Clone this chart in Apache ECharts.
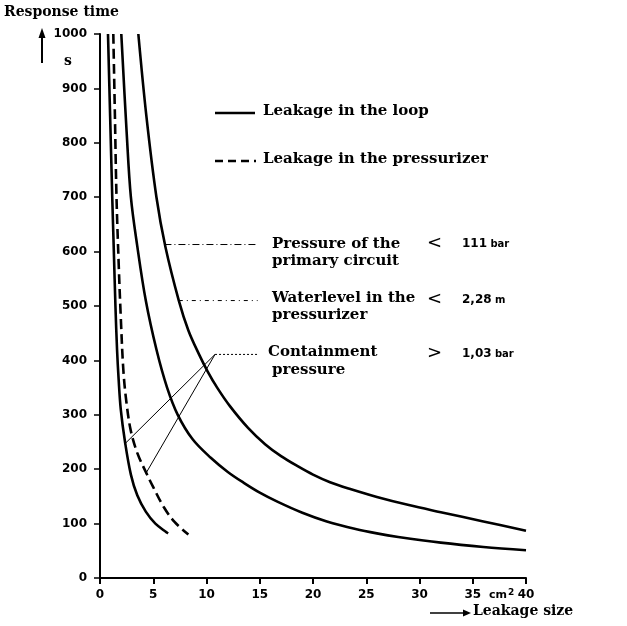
<!DOCTYPE html>
<html>
<head>
<meta charset="utf-8">
<script src="https://cdn.jsdelivr.net/npm/echarts@6/dist/echarts.min.js"></script>
<style>html,body{margin:0;padding:0;background:#fff;}#c{width:627px;height:626px;}</style>
</head>
<body>
<div id="c"></div>
<script>
// ---- data (x: leakage size cm², y: response time s) ----
const xTicks = [0, 5, 10, 15, 20, 25, 30, 35, 40];
const yTicks = [0, 100, 200, 300, 400, 500, 600, 700, 800, 900, 1000];
const loopInner = [[0.75,1000],[0.95,850],[1.15,700],[1.3,600],[1.45,500],[1.6,420],[1.75,365],[1.95,310],[2.35,250],[2.9,190],[3.5,152],[4.3,122],[5.2,100],[6.4,82]];
const pressurizer = [[1.25,1000],[1.4,850],[1.55,700],[1.75,580],[1.95,480],[2.2,380],[2.5,320],[2.9,270],[3.5,230],[4.3,195],[5.0,167],[6.0,130],[7.0,103],[8.3,80]];
const loopMiddle = [[2.0,1000],[2.5,820],[2.9,700],[3.5,610],[4.3,510],[5.3,420],[6.3,350],[7.3,300],[8.7,255],[10.4,221],[12,195],[13.5,175],[15,157],[16.7,140],[19,120],[21.3,104],[24,90],[26,82],[28,75.5],[32,65],[36,57],[40,51]];
const loopOuter = [[3.6,1000],[4.35,850],[5.3,700],[6.15,608],[7.4,510],[8.3,455],[9.3,411],[10.1,380],[11,350],[12.2,316],[13.9,276],[15.5,246],[17,224],[18.6,205],[20,190],[21.6,176],[23.5,163.5],[26,149],[29,134],[32,121],[36,104],[40,87]];
// annotation leader lines
const pressureLeader = [[6.05,613],[14.8,613]];
const waterLeader = [[7.4,510],[14.8,510]];
const containLeader = [[10.8,411],[14.8,411]];
const containToLoop = [[10.8,411],[2.3,246]];
const containToPressurizer = [[10.8,411],[4.3,192]];
const legendNames = ['Leakage in the loop', 'Leakage in the pressurizer'];

const numFont = "'DejaVu Sans', sans-serif";
const txtFont = "'DejaVu Serif', serif";

const chart = echarts.init(document.getElementById('c'), null, {renderer: 'canvas'});

function curve(name, data, dashed) {
  return {
    name: name, type: 'line', data: data, smooth: 0.35, showSymbol: false, symbol: 'none',
    lineStyle: {color: '#000', width: 2.6, type: dashed ? [10, 5] : 'solid'},
    itemStyle: {color: '#000'}, silent: true, z: 3
  };
}
function leader(data, type) {
  return {
    type: 'line', data: data, showSymbol: false, symbol: 'none', silent: true,
    lineStyle: {color: '#000', width: 1, type: type}, z: 2
  };
}

const T = (text, x, y, extra) => ({
  type: 'text', left: x, top: y,
  style: Object.assign({text: text, font: 'bold 15px ' + txtFont, fill: '#000'}, extra || {})
});

const option = {
  animation: false,
  backgroundColor: '#fff',
  grid: {left: 100, right: 101, top: 34, bottom: 48},
  xAxis: {
    type: 'value', min: 0, max: 40, interval: 5,
    axisLine: {show: true, lineStyle: {color: '#000', width: 2}},
    axisTick: {show: true, length: 6, lineStyle: {color: '#000', width: 2}},
    axisLabel: {color: '#000', fontFamily: numFont, fontWeight: 'bold', fontSize: 12, margin: 11,
      formatter: v => String(v)},
    splitLine: {show: false}
  },
  yAxis: {
    type: 'value', min: 0, max: 1000, interval: 100,
    axisLine: {show: true, lineStyle: {color: '#000', width: 2}},
    axisTick: {show: true, length: 6, lineStyle: {color: '#000', width: 1.5}},
    axisLabel: {color: '#000', fontFamily: numFont, fontWeight: 'bold', fontSize: 12, margin: 13,
      formatter: v => String(v)},
    splitLine: {show: false}
  },
  series: [
    curve(legendNames[0], loopInner, false),
    curve(legendNames[1], pressurizer, true),
    curve(legendNames[0], loopMiddle, false),
    curve(legendNames[0], loopOuter, false),
    leader(pressureLeader, [7, 3, 1, 3]),
    leader(waterLeader, [4, 4, 1, 4]),
    leader(containLeader, [2, 2]),
    leader(containToLoop, 'solid'),
    leader(containToPressurizer, 'solid')
  ],
  graphic: [
    T('Response time', 4, 5, {font: 'bold 14px ' + txtFont}),
    T('s', 64, 54, {font: 'bold 14px ' + txtFont}),
    {type: 'line', shape: {x1: 42, y1: 36, x2: 42, y2: 63}, style: {stroke: '#000', lineWidth: 2}},
    {type: 'polygon', shape: {points: [[42, 28], [38.5, 38], [45.5, 38]]}, style: {fill: '#000'}},
    // legend
    {type: 'line', shape: {x1: 215, y1: 113, x2: 255, y2: 113}, style: {stroke: '#000', lineWidth: 2.4}},
    {type: 'line', shape: {x1: 215, y1: 161, x2: 256, y2: 161}, style: {stroke: '#000', lineWidth: 2.4, lineDash: [8, 5]}},
    T(legendNames[0], 263, 104),
    T(legendNames[1], 263, 152),
    T('Pressure of the', 272, 237),
    T('primary circuit', 272, 254),
    T('Waterlevel in the', 272, 291),
    T('pressurizer', 272, 308),
    T('Containment', 268, 345),
    T('pressure', 272, 363),
    T('<', 427, 234, {font: '18px ' + numFont}),
    T('<', 427, 290, {font: '18px ' + numFont}),
    T('>', 427, 344, {font: '18px ' + numFont}),
    {type: 'text', left: 462, top: 238, style: {text: '{n|111} {u|bar}', rich: {n: {font: 'bold 12px ' + numFont, fill: '#000'}, u: {font: 'bold 10px ' + numFont, fill: '#000'}}}},
    {type: 'text', left: 462, top: 294, style: {text: '{n|2,28} {u|m}', rich: {n: {font: 'bold 12px ' + numFont, fill: '#000'}, u: {font: 'bold 10px ' + numFont, fill: '#000'}}}},
    {type: 'text', left: 462, top: 348, style: {text: '{n|1,03} {u|bar}', rich: {n: {font: 'bold 12px ' + numFont, fill: '#000'}, u: {font: 'bold 10px ' + numFont, fill: '#000'}}}},
    {type: 'text', left: 489, top: 588, style: {text: '{u|cm}{s|2}', rich: {u: {font: 'bold 11px ' + numFont, fill: '#000'}, s: {font: 'bold 9px ' + numFont, fill: '#000', verticalAlign: 'top', padding: [0, 0, 5, 1]}}}},
    {type: 'line', shape: {x1: 430, y1: 613, x2: 464, y2: 613}, style: {stroke: '#000', lineWidth: 1.5}},
    {type: 'polygon', shape: {points: [[471, 613], [463, 609.5], [463, 616.5]]}, style: {fill: '#000'}},
    T('Leakage size', 473, 604, {font: 'bold 14px ' + txtFont})
  ]
};
chart.setOption(option);
</script>
</body>
</html>
